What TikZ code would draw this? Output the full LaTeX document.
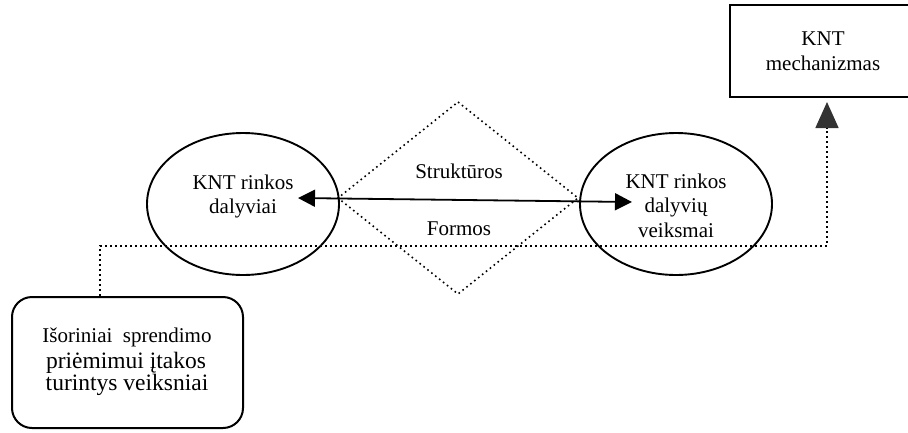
\documentclass[tikz,border=0pt]{standalone}
\usepackage{fontspec}
\setmainfont{Liberation Serif}
\usetikzlibrary{arrows.meta,shapes.geometric}
\begin{document}
\begin{tikzpicture}[x=1pt,y=-1pt,
  txt/.style={font=\fontsize{21}{24.5}\selectfont, inner sep=0pt, align=center},
  oval/.style={draw, ellipse, line width=1.9pt, minimum width=192pt, minimum height=142pt, inner sep=0pt},
  dotline/.style={line width=1.6pt, dash pattern=on 1.6pt off 3.4pt},
  frame/.style={line width=2.5pt, line cap=rect},
]
\useasboundingbox (0,0) rectangle (908,432);
% ellipses
\node[oval] (L) at (243,204) {};
\node[oval] (R) at (676,204) {};
\node[txt, anchor=north] (Lt) at (243,174.5) {KNT rinkos\\dalyviai};
\node[txt, anchor=north] (Rt) at (676,173.5) {KNT rinkos\\dalyvių\\veiksmai};
% diamond
\coordinate (dt) at (458,102);
\coordinate (dr) at (578,198);
\coordinate (db) at (458,294);
\coordinate (dl) at (338,198);
\draw[dotline] (dt) -- (dr) -- (db) -- (dl) -- cycle;
\node[txt, anchor=base] (S) at (459,178) {Struktūros};
\node[txt, anchor=base] (F) at (459,235) {Formos};
% double arrow
\coordinate (aL) at (298,198);
\coordinate (aR) at (632,202);
\draw[line width=1.8pt, {Triangle[length=17pt,width=17pt]}-{Triangle[length=17pt,width=17pt]}] (aL) -- (aR);
% external factors box
\node[draw, line width=2pt, rounded corners=20pt, minimum width=231pt, minimum height=131pt] (B) at (127.5,362.5) {};
\node[anchor=base, inner sep=0pt, font=\fontsize{21}{24}\selectfont] (b1) at (127,342) {Išoriniai\ \ sprendimo};
\node[anchor=base, inner sep=0pt, font=\fontsize{23.5}{26}\selectfont] (b2) at (126,368) {priėmimui įtakos};
\node[anchor=base, inner sep=0pt, font=\fontsize{23.5}{26}\selectfont] (b3) at (127,390) {turintys veiksniai};
% mechanism box (its right side lies past the picture edge)
\node[minimum width=178pt, minimum height=92pt, anchor=west, inner sep=0pt, outer sep=0pt] (M) at (730,51) {};
\draw[frame] (M.north east) -- (M.north west) -- (M.south west) -- (M.south east);
\node[txt] (Mt) at (823,51) {KNT\\mechanizmas};
% dotted connector
\coordinate (mT) at (827,102);
\draw[dotline, -{Triangle[length=26pt,width=23pt,fill=black!80,color=black!80]}]
  ([xshift=-27.5pt]B.north) -- ++(0,-50) -| (mT);
\end{tikzpicture}
\end{document}
